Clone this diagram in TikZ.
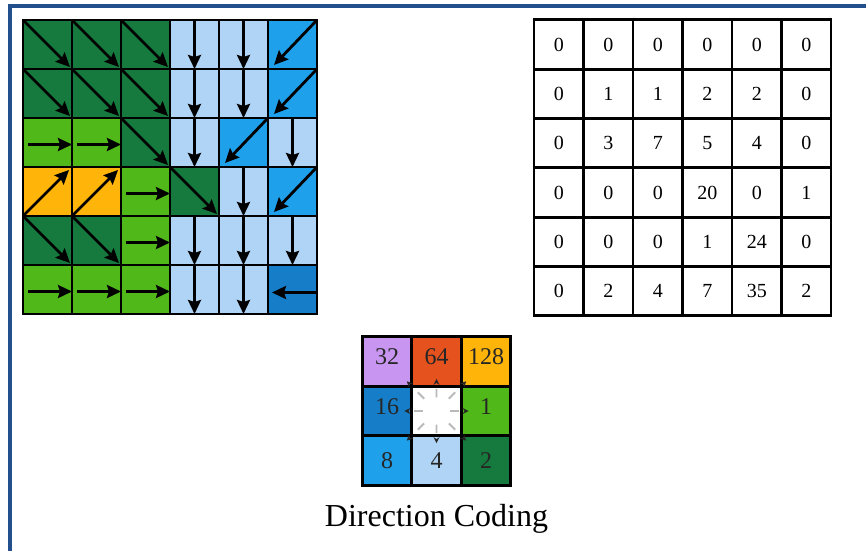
\documentclass[tikz,border=0pt]{standalone}
\usepackage{fontspec}
\setmainfont{Liberation Serif}
\usetikzlibrary{arrows.meta,calc,positioning}

\definecolor{dir1}{RGB}{80,185,25}
\definecolor{dir2}{RGB}{22,122,62}
\definecolor{dir4}{RGB}{175,212,245}
\definecolor{dir8}{RGB}{30,160,235}
\definecolor{dir16}{RGB}{22,125,200}
\definecolor{dir32}{RGB}{200,150,240}
\definecolor{dir64}{RGB}{230,82,30}
\definecolor{dir128}{RGB}{255,180,10}
\definecolor{frameblue}{RGB}{35,80,140}

\begin{document}
\begin{tikzpicture}[x=1pt,y=-1pt,>={Stealth[length=14pt,width=13pt,inset=2pt]},
  cell/.style={draw,line width=2.8pt,minimum size=49pt,inner sep=0pt,outer sep=0pt},
  flow/.style={->,line width=2.8pt},
  numcell/.style={cell,minimum size=49.5pt,font=\fontsize{20}{20}\selectfont},
  codecell/.style={cell,minimum size=49.5pt,font=\fontsize{24}{24}\selectfont,text=black!85},
  pointer/.style={line width=1.8pt,gray!55,dash pattern=on #1 off 30pt,
    -{Stealth[length=6pt,width=6pt,color=black!85]}}]
  \useasboundingbox[fill=white] (0,0) rectangle (866,550);
  \draw[frameblue,line width=3.5pt] (10,560) -- (10,6) -- (876,6);

  % flow directions
  \foreach \codes [count=\r] in {{2,2,2,4,4,8},{2,2,2,4,4,8},{1,1,2,4,8,4},
      {128,128,1,2,4,8},{2,2,1,4,4,4},{1,1,1,4,4,16}}
    \foreach \d [count=\c] in \codes
      \node[cell,fill=dir\d] (L-\r-\c) at ({-1.5+49*\c},{-4.5+49*\r}) {};
  \foreach \n in {1-1,1-2,1-3,2-1,2-2,2-3,3-3,4-4,5-1,5-2}
    \draw[flow] (L-\n.north west) -- ([shift={(-2,-2)}]L-\n.south east);
  \foreach \n in {1-4,1-5,2-4,2-5,3-4,3-6,4-5,5-4,5-5,5-6,6-4,6-5}
    \draw[flow] (L-\n.north) -- (L-\n.south);
  \foreach \n in {1-6,2-6,3-5,4-6}
    \draw[flow] (L-\n.north east) -- ([shift={(6,-4)}]L-\n.south west);
  \foreach \n in {3-1,3-2,4-3,5-3,6-1,6-2,6-3}
    \draw[flow] ([shift={(5,2)}]L-\n.west) -- ([shift={(0,2)}]L-\n.east);
  \foreach \n in {4-1,4-2}
    \draw[flow] (L-\n.south west) -- ([shift={(-3,3)}]L-\n.north east);
  \draw[flow] ([yshift=-3]L-6-6.east) -- ([shift={(4,3)}]L-6-6.west);

  % accumulation
  \foreach \vals [count=\r] in {{0,0,0,0,0,0},{0,1,1,2,2,0},{0,3,7,5,4,0},
      {0,0,0,20,0,1},{0,0,0,1,24,0},{0,2,4,7,35,2}}
    \foreach \v [count=\c] in \vals
      \node[numcell] (R-\r-\c) at ({509.25+49.5*\c},{-4.75+49.3*\r}) {\v};

  % direction coding
  \foreach \v/\r/\c/\lift in {32/1/1/9,64/1/2/9,128/1/3/9,16/2/1/9,1/2/3/9,8/3/1/0,4/3/2/0,2/3/3/0}
    \node[codecell,fill=dir\v] (D-\r-\c) at ({337.5+49.5*\c},{312+49.5*\r}) {\raisebox{\lift pt}{\v}};
  \node[codecell,fill=white] (D-2-2) at (436.5,411) {};
  \foreach \anc in {north,south,east,west}
    \draw[pointer=8.5pt] ($(D-2-2.center)!0.55!(D-2-2.\anc)$) -- ($(D-2-2.center)!1.3!(D-2-2.\anc)$);
  \foreach \anc in {north east,north west,south east,south west}
    \draw[pointer=9pt] ($(D-2-2.center)!0.5!(D-2-2.\anc)$) -- ($(D-2-2.center)!1.2!(D-2-2.\anc)$);
  \node[font=\fontsize{32}{32}\selectfont] (caption) [below=15pt of D-3-2] {Direction Coding};
\end{tikzpicture}
\end{document}
